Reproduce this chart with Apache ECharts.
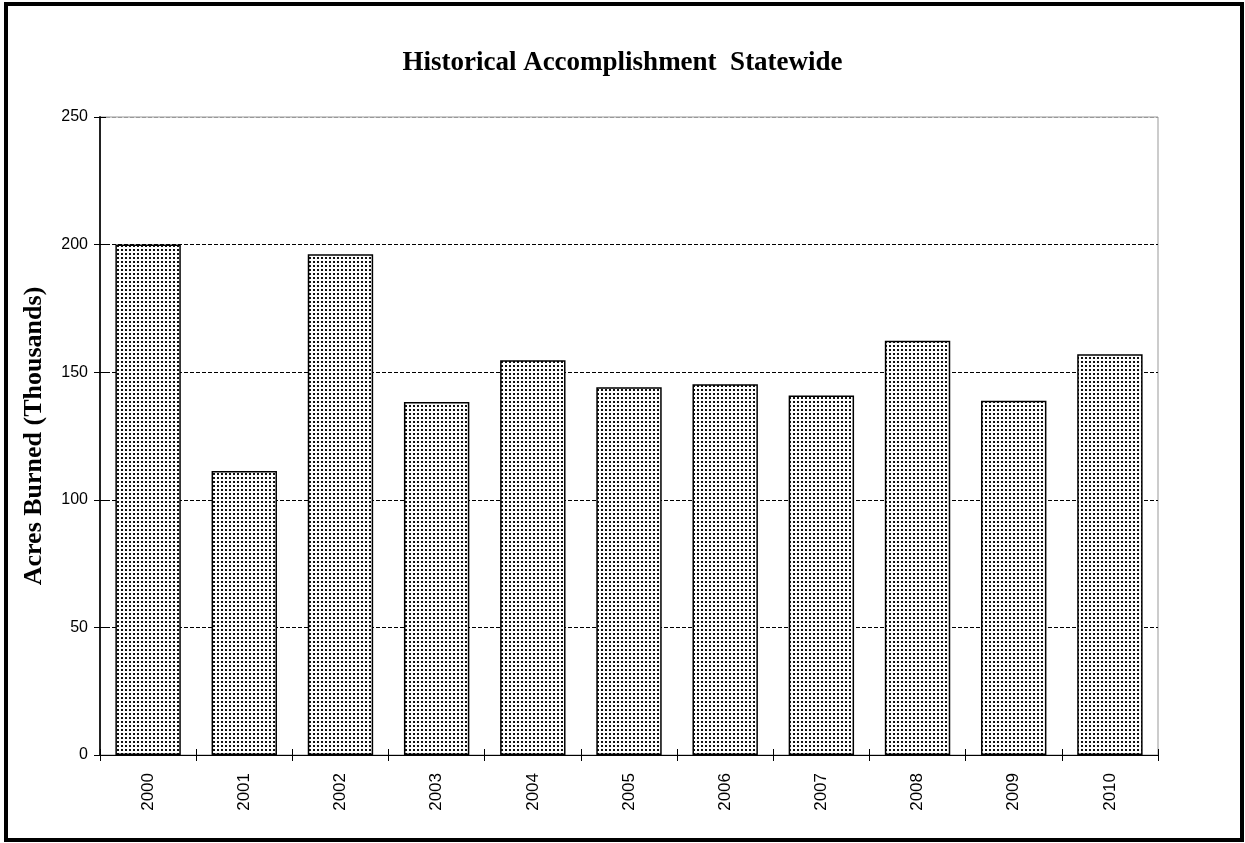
<!DOCTYPE html>
<html>
<head>
<meta charset="utf-8">
<script src="https://cdn.jsdelivr.net/npm/echarts@6/dist/echarts.min.js"></script>
<style>
html,body{margin:0;padding:0;background:#fff;}
#main{width:1245px;height:843px;}
</style>
</head>
<body>
<div id="main"></div>
<script>
const titleText = 'Historical Accomplishment  Statewide';
const yAxisName = 'Acres Burned (Thousands)';
const years = ['2000','2001','2002','2003','2004','2005','2006','2007','2008','2009','2010'];
const acres = [200, 111.3, 196.2, 138.3, 154.7, 144.1, 145.3, 140.9, 162.3, 138.8, 157.0];
const yMin = 0, yMax = 250, yStep = 50;

const pc = document.createElement('canvas');
pc.width = 4; pc.height = 4;
const px = pc.getContext('2d');
px.fillStyle = '#ffffff'; px.fillRect(0,0,4,4);
px.fillStyle = '#111111'; px.fillRect(1,1,2,2);

const chart = echarts.init(document.getElementById('main'), null, {renderer:'canvas'});
chart.setOption({
  animation: false,
  backgroundColor: '#ffffff',
  title: {
    text: titleText, left: 'center', top: 45,
    textStyle: {fontFamily: 'Liberation Serif', fontWeight: 'bold', fontSize: 27, color: '#000'}
  },
  graphic: [{
    type: 'rect', shape: {x: 6, y: 4, width: 1236, height: 836},
    style: {fill: 'none', stroke: '#000', lineWidth: 4}, z: 100
  }],
  grid: {left: 100, top: 117, right: 87, bottom: 88, show: true, borderColor: '#999', borderWidth: 1, backgroundColor: 'transparent'},
  xAxis: [{
    type: 'category', data: years, position: 'bottom',
    axisLine: {show: true, lineStyle: {color: '#000', width: 1}},
    axisTick: {show: true, length: 6, lineStyle: {color: '#000'}},
    axisLabel: {rotate: 90, margin: 18, fontFamily: 'Liberation Sans', fontSize: 17, color: '#000'},
    splitLine: {show: false}
  }, {
    type: 'category', data: years, position: 'bottom',
    axisLine: {show: false},
    axisTick: {show: true, inside: true, length: 6, lineStyle: {color: '#000'}},
    axisLabel: {show: false}, splitLine: {show: false}
  }],
  yAxis: [{
    type: 'value', min: yMin, max: yMax, interval: yStep,
    name: yAxisName, nameLocation: 'middle', nameGap: 53,
    nameTextStyle: {fontFamily: 'Liberation Serif', fontWeight: 'bold', fontSize: 26, color: '#000'},
    axisLine: {show: true, lineStyle: {color: '#222', width: 2}},
    axisTick: {show: true, length: 6, lineStyle: {color: '#000'}},
    axisLabel: {margin: 12, fontFamily: 'Liberation Sans', fontSize: 16, color: '#000'},
    splitLine: {show: true, lineStyle: {type: [4, 2], color: ['#000','#000','#000','#000','#000','#999'], width: 1}}
  }, {
    type: 'value', min: yMin, max: yMax, interval: yStep, position: 'left',
    axisLine: {show: false},
    axisTick: {show: true, inside: true, length: 6, lineStyle: {color: '#000'}},
    axisLabel: {show: false}, splitLine: {show: false}
  }],
  series: [{
    type: 'bar', data: acres, xAxisIndex: 0, yAxisIndex: 0,
    barCategoryGap: '32%',
    itemStyle: {color: {image: pc, repeat: 'repeat'}, borderColor: '#000', borderWidth: 1.5},
    z: 3
  }]
});
</script>
</body>
</html>
